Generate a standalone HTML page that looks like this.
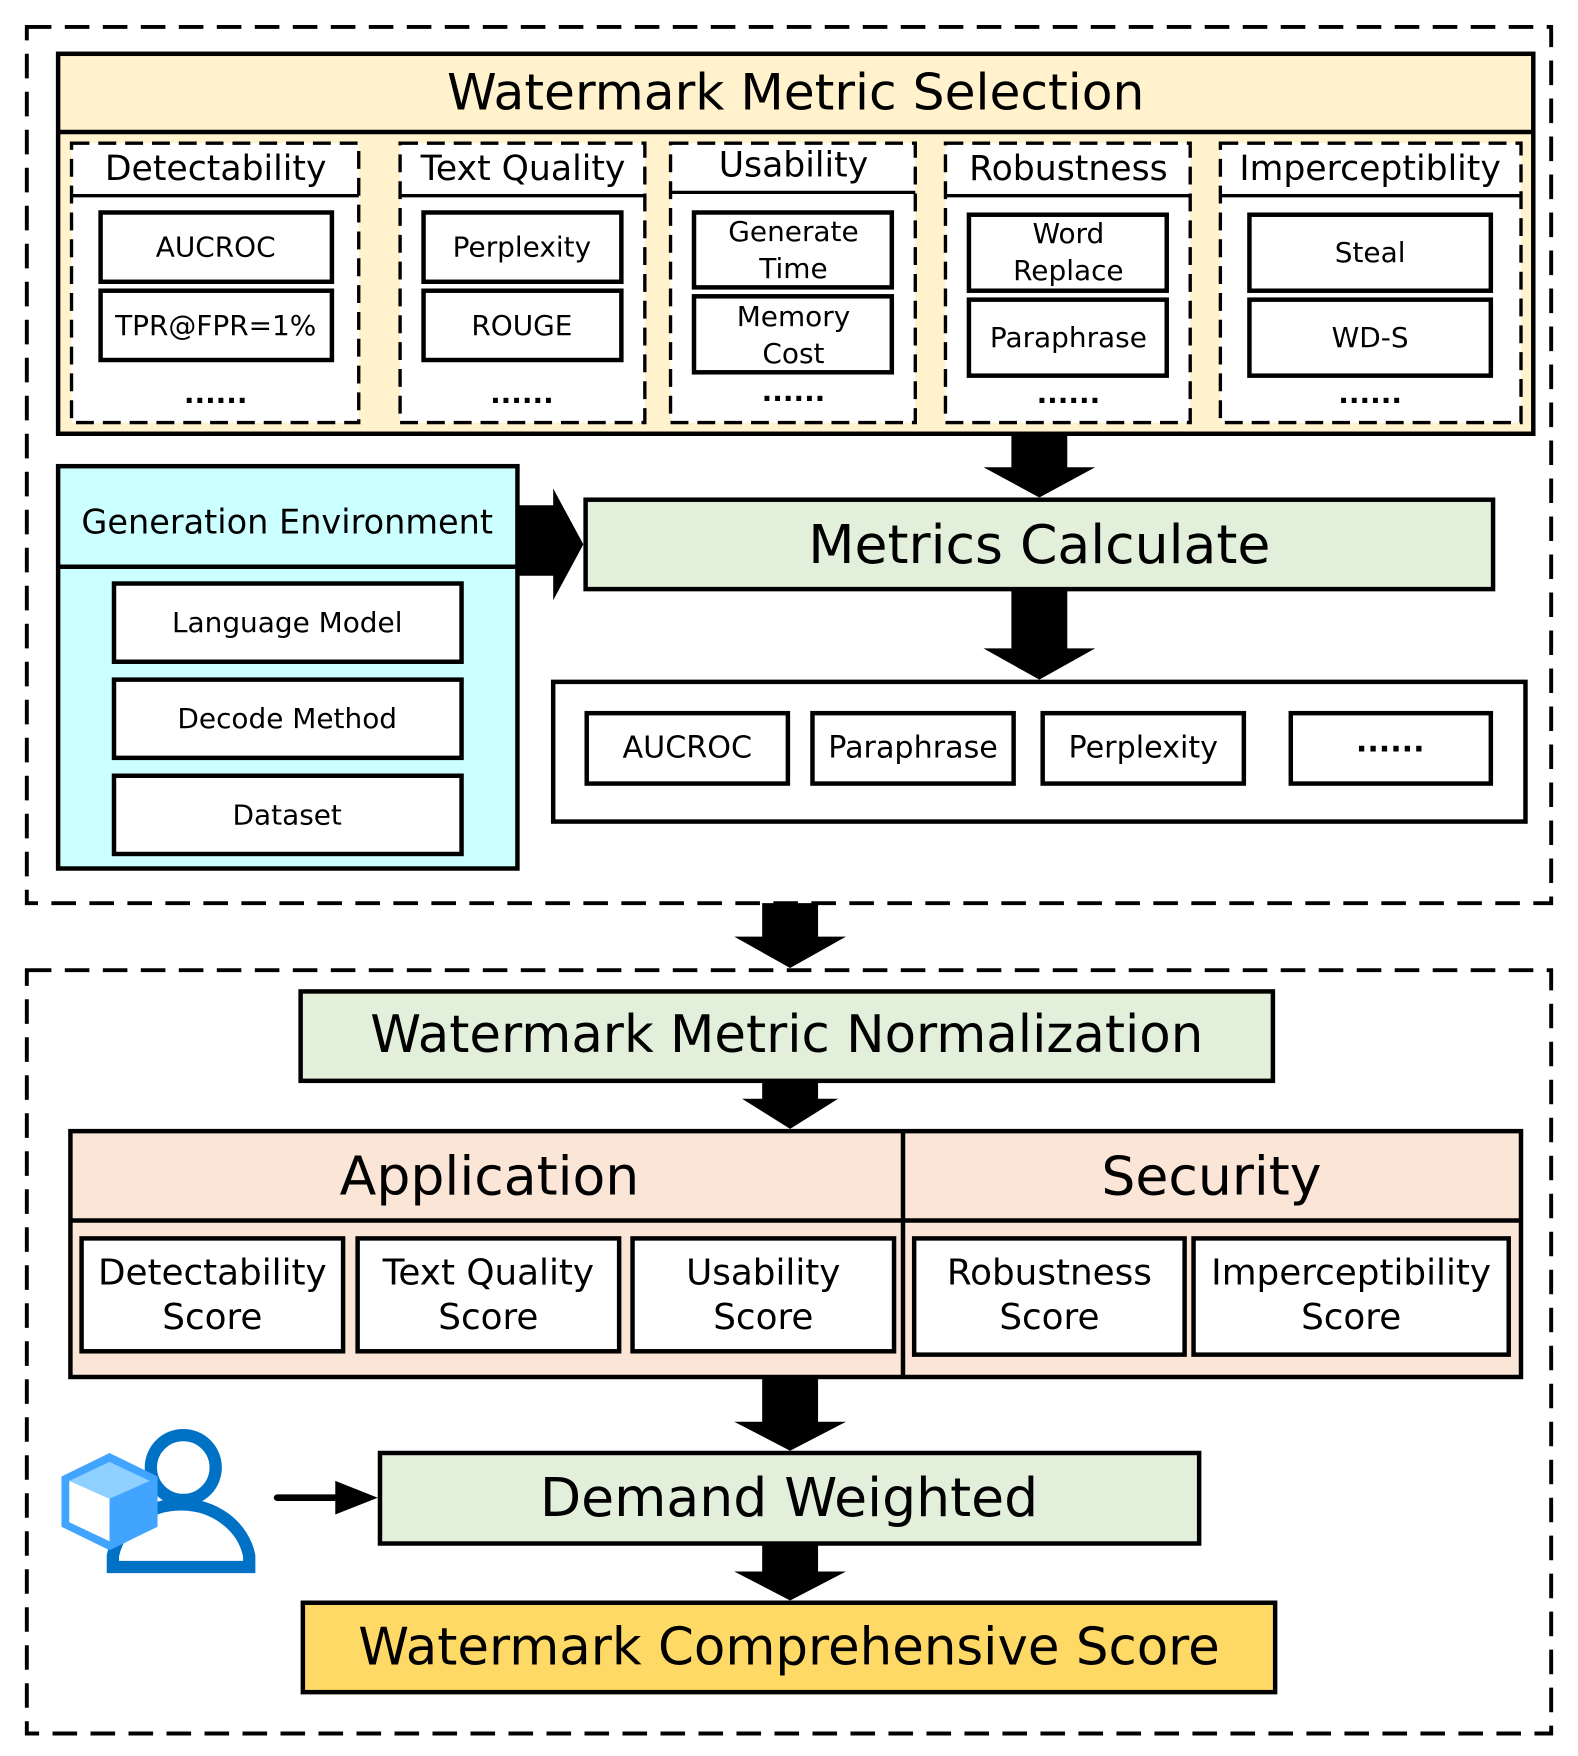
<!DOCTYPE html>
<html><head><meta charset="utf-8"><style>
html,body{margin:0;padding:0;background:#fff;}
svg{display:block;}
text{font-family:"Comic Sans MS","DejaVu Sans","Liberation Sans",sans-serif;fill:#000;text-anchor:middle;dominant-baseline:central;}
.d{font-weight:bold;}
</style></head><body>
<svg width="1578" height="1756" viewBox="0 0 1412 1571" xmlns="http://www.w3.org/2000/svg">
<g fill="none" stroke="#000" stroke-width="3.5" stroke-dasharray="22,12">
<rect x="24" y="24" width="1364" height="784"/>
<rect x="24" y="868" width="1364" height="683"/>
</g>
<rect x="52" y="48" width="1320" height="340" fill="#fff2cc" stroke="#000" stroke-width="4"/>
<line x1="52" y1="118" x2="1372" y2="118" stroke="#000" stroke-width="4"/>
<text x="712" y="82" font-size="45">Watermark Metric Selection</text>
<g fill="#fff" stroke="#000" stroke-width="3" stroke-dasharray="16,8">
<rect x="64" y="128" width="257" height="250"/>
<rect x="358" y="128" width="219" height="250"/>
<rect x="600" y="128" width="219" height="250"/>
<rect x="846" y="128" width="219" height="250"/>
<rect x="1092" y="128" width="269" height="250"/>
</g>
<g stroke="#000" stroke-width="3">
<line x1="64" y1="175" x2="321" y2="175"/><line x1="358" y1="175" x2="577" y2="175"/>
<line x1="600" y1="172" x2="819" y2="172"/><line x1="846" y1="175" x2="1065" y2="175"/>
<line x1="1092" y1="175" x2="1361" y2="175"/>
</g>
<g font-size="31">
<text x="193" y="151">Detectability</text><text x="468" y="151">Text Quality</text>
<text x="710" y="148">Usability</text><text x="956" y="151">Robustness</text>
<text x="1226" y="151">Imperceptiblity</text>
</g>
<g fill="#fff" stroke="#000" stroke-width="4">
<rect x="90" y="190" width="207" height="62"/><rect x="90" y="260" width="207" height="62"/>
<rect x="379" y="190" width="177" height="62"/><rect x="379" y="260" width="177" height="62"/>
<rect x="621" y="190" width="177" height="67"/><rect x="621" y="265" width="177" height="68"/>
<rect x="867" y="192" width="177" height="68"/><rect x="867" y="268" width="177" height="68"/>
<rect x="1118" y="192" width="216" height="68"/><rect x="1118" y="268" width="216" height="68"/>
</g>
<g font-size="25">
<text x="193" y="221">AUCROC</text><text x="193" y="291">TPR@FPR=1%</text>
<text x="467" y="221">Perplexity</text><text x="467" y="291">ROUGE</text>
<text x="710" y="207">Generate</text><text x="710" y="240">Time</text>
<text x="710" y="283">Memory</text><text x="710" y="316">Cost</text>
<text x="956" y="209">Word</text><text x="956" y="242">Replace</text>
<text x="956" y="302">Paraphrase</text>
<text x="1226" y="226">Steal</text><text x="1226" y="302">WD-S</text>
</g>
<g font-size="25" class="d">
<text x="193" y="352">......</text><text x="467" y="352">......</text><text x="710" y="350">......</text>
<text x="956" y="352">......</text><text x="1226" y="352">......</text>
</g>
<g fill="#000">
<polygon points="905,388 955,388 955,418 980,418 930,445 880,418 905,418"/>
<polygon points="905,527 955,527 955,580 980,580 930,608 880,580 905,580"/>
<polygon points="463,452 495,452 495,437 522,487 495,537 495,515 463,515"/>
<polygon points="682,808 732,808 732,838 757,838 707,866 657,838 682,838"/>
<polygon points="682,967 732,967 732,983 750,983 707,1010 664,983 682,983"/>
<polygon points="682,1232 732,1232 732,1272 757,1272 707,1298 657,1272 682,1272"/>
<polygon points="682,1381 732,1381 732,1406 757,1406 707,1432 657,1406 682,1406"/>
<polygon points="300,1325 338,1340 300,1355"/>
</g>
<line x1="248" y1="1340" x2="305" y2="1340" stroke="#000" stroke-width="6" stroke-linecap="round"/>
<rect x="52" y="417" width="411" height="360" fill="#ccffff" stroke="#000" stroke-width="4"/>
<line x1="52" y1="507" x2="463" y2="507" stroke="#000" stroke-width="4"/>
<text x="257" y="467" font-size="30">Generation Environment</text>
<g fill="#fff" stroke="#000" stroke-width="4">
<rect x="102" y="522" width="311" height="70"/><rect x="102" y="608" width="311" height="70"/><rect x="102" y="694" width="311" height="70"/>
</g>
<g font-size="25"><text x="257" y="557">Language Model</text><text x="257" y="643">Decode Method</text><text x="257" y="729">Dataset</text></g>
<rect x="524" y="447" width="812" height="80" fill="#e2efda" stroke="#000" stroke-width="4"/>
<text x="930" y="487" font-size="48">Metrics Calculate</text>
<rect x="495" y="610" width="870" height="125" fill="#fff" stroke="#000" stroke-width="4"/>
<g fill="#fff" stroke="#000" stroke-width="4">
<rect x="525" y="638" width="180" height="63"/><rect x="727" y="638" width="180" height="63"/>
<rect x="933" y="638" width="180" height="63"/><rect x="1155" y="638" width="179" height="63"/>
</g>
<g font-size="27"><text x="615" y="669">AUCROC</text><text x="817" y="669">Paraphrase</text><text x="1023" y="669">Perplexity</text><text x="1244" y="664" class="d">......</text></g>
<rect x="269" y="887" width="870" height="80" fill="#e2efda" stroke="#000" stroke-width="4"/>
<text x="704" y="926" font-size="46">Watermark Metric Normalization</text>
<rect x="63" y="1012" width="1298" height="220" fill="#fbe5d6" stroke="#000" stroke-width="4"/>
<line x1="808" y1="1012" x2="808" y2="1232" stroke="#000" stroke-width="4"/>
<line x1="63" y1="1092" x2="1361" y2="1092" stroke="#000" stroke-width="4"/>
<text x="438" y="1052" font-size="48">Application</text>
<text x="1084" y="1052" font-size="48">Security</text>
<g fill="#fff" stroke="#000" stroke-width="4">
<rect x="73" y="1108" width="234" height="101"/><rect x="320" y="1108" width="234" height="101"/>
<rect x="566" y="1108" width="234" height="101"/><rect x="818" y="1108" width="242" height="104"/>
<rect x="1068" y="1108" width="282" height="104"/>
</g>
<g font-size="32">
<text x="190" y="1139">Detectability</text><text x="190" y="1179">Score</text>
<text x="437" y="1139">Text Quality</text><text x="437" y="1179">Score</text>
<text x="683" y="1139">Usability</text><text x="683" y="1179">Score</text>
<text x="939" y="1139">Robustness</text><text x="939" y="1179">Score</text>
<text x="1209" y="1139">Imperceptibility</text><text x="1209" y="1179">Score</text>
</g>
<rect x="340" y="1300" width="733" height="81" fill="#e2efda" stroke="#000" stroke-width="4"/>
<text x="706" y="1340" font-size="48">Demand Weighted</text>
<rect x="271" y="1434" width="870" height="80" fill="#ffd966" stroke="#000" stroke-width="4"/>
<text x="706" y="1474" font-size="46">Watermark Comprehensive Score</text>
<circle cx="164" cy="1313" r="29" fill="none" stroke="#0072c6" stroke-width="11"/>
<path d="M101,1402 L101,1392 A62,56 0 0 1 223,1392 L223,1402 Z" fill="none" stroke="#0072c6" stroke-width="11"/>
<polygon points="98,1300 141,1321 141,1366 98,1387 55,1366 55,1321" fill="#41a5ff"/>
<polygon points="98,1308 134,1325 98,1341 62,1325" fill="#8ed0ff"/>
<polygon points="62,1325 98,1341 98,1379 62,1362" fill="#fff"/>
</svg>
</body></html>
